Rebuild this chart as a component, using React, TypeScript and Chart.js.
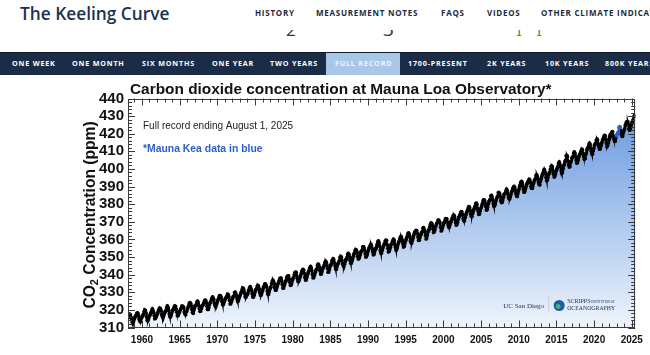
import React, { useEffect, useRef } from 'react';
import { Chart, registerables } from 'chart.js';

Chart.register(...registerables);

const FONT = "'Liberation Sans', Arial, Helvetica, sans-serif";
const SERIF = "'Liberation Serif', 'DejaVu Serif', serif";

const SITE_TITLE = 'The Keeling Curve';
const TOP_LINKS = ['HISTORY', 'MEASUREMENT NOTES', 'FAQS', 'VIDEOS', 'OTHER CLIMATE INDICATORS'];
const TOP_LINK_X = [255, 316, 441, 487, 541];
const RANGE_TABS = ['ONE WEEK', 'ONE MONTH', 'SIX MONTHS', 'ONE YEAR', 'TWO YEARS', 'FULL RECORD', '1700-PRESENT', '2K YEARS', '10K YEARS', '800K YEARS'];
const RANGE_TAB_X = [12, 72, 142, 212, 270, 335, 408, 487, 545, 605];
const ACTIVE_TAB = 'FULL RECORD';

const CHART_TITLE = 'Carbon dioxide concentration at Mauna Loa Observatory*';
const NOTE_RECORD = 'Full record ending August 1, 2025';
const NOTE_MAUNA_KEA = '*Mauna Kea data in blue';
const Y_TITLE_MAIN = 'CO';
const Y_TITLE_SUB = '2';
const Y_TITLE_REST = ' Concentration (ppm)';

const X_TICK_YEARS = [1960, 1965, 1970, 1975, 1980, 1985, 1990, 1995, 2000, 2005, 2010, 2015, 2020, 2025];
const Y_TICK_VALUES = [310, 320, 330, 340, 350, 360, 370, 380, 390, 400, 410, 420, 430, 440];

const FIRST_YEAR = 1958;
const FIRST_MONTH_INDEX = 2; // March 1958

// Monthly mean CO2 (ppm)
const co2_1958_1959 = [
  315.70, 317.45, 317.51, 317.24, 315.86, 314.93, 313.20, 312.43, 313.33, 314.67,
  315.58, 316.48, 316.65, 317.72, 318.29, 318.15, 316.54, 314.80, 313.84, 313.33, 314.81, 315.58,
];
const co2_1960s = [
  316.43, 316.98, 317.58, 319.03, 320.04, 319.59, 318.18, 315.90, 314.17, 313.83, 315.00, 316.19,
  316.90, 317.70, 318.54, 319.48, 320.58, 319.77, 318.57, 316.79, 314.99, 315.31, 316.10, 317.01,
  317.94, 318.55, 319.68, 320.57, 321.02, 320.62, 319.61, 317.40, 316.25, 315.42, 316.69, 317.70,
  318.74, 319.07, 319.86, 321.38, 322.25, 321.48, 319.74, 317.77, 316.21, 315.99, 317.07, 318.35,
  319.57, 320.01, 320.74, 321.84, 322.26, 321.89, 320.44, 318.69, 316.70, 316.87, 317.68, 318.71,
  319.44, 320.44, 320.89, 322.14, 322.17, 321.87, 321.21, 318.87, 317.81, 317.30, 318.87, 319.42,
  320.62, 321.60, 322.39, 323.70, 324.08, 323.75, 322.38, 320.36, 318.64, 318.10, 319.78, 321.03,
  322.33, 322.50, 323.04, 324.42, 325.00, 324.09, 322.54, 320.92, 319.25, 319.39, 320.73, 321.96,
  322.57, 323.15, 323.89, 325.02, 325.57, 325.36, 324.14, 322.11, 320.33, 320.25, 321.32, 322.89,
  324.00, 324.42, 325.63, 326.66, 327.38, 326.71, 325.88, 323.66, 322.38, 321.78, 322.86, 324.12,
];
const co2_1970s = [
  325.06, 325.98, 326.93, 328.13, 328.08, 327.67, 326.34, 324.69, 323.10, 323.06, 324.01, 325.13,
  326.17, 326.68, 327.17, 327.79, 328.93, 328.57, 327.36, 325.43, 323.36, 323.56, 324.80, 326.01,
  326.77, 327.63, 327.75, 329.72, 330.07, 329.09, 328.04, 326.32, 324.84, 325.20, 326.50, 327.55,
  328.55, 329.56, 330.30, 331.50, 332.48, 332.07, 330.87, 329.31, 327.51, 327.18, 328.16, 328.64,
  329.35, 330.71, 331.48, 332.65, 333.19, 332.20, 331.07, 329.15, 327.33, 327.28, 328.31, 329.58,
  330.73, 331.46, 331.90, 333.17, 333.94, 333.45, 331.97, 329.95, 328.50, 328.34, 329.37, 330.58,
  331.59, 332.75, 333.52, 334.64, 334.77, 334.00, 333.06, 330.68, 328.95, 328.75, 330.15, 331.62,
  332.66, 333.13, 334.95, 336.13, 336.93, 336.17, 334.88, 332.56, 331.29, 331.27, 332.41, 333.60,
  334.95, 335.25, 336.66, 337.69, 338.03, 338.01, 336.41, 334.41, 332.37, 332.41, 333.75, 334.90,
  336.14, 336.69, 338.27, 338.96, 339.21, 339.26, 337.54, 335.75, 333.98, 334.19, 335.31, 336.81,
];
const co2_1980s = [
  337.90, 338.34, 340.01, 340.93, 341.48, 341.33, 339.40, 337.70, 336.19, 336.15, 337.27, 338.32,
  339.29, 340.55, 341.61, 342.53, 343.03, 342.54, 340.78, 338.44, 336.95, 337.08, 338.58, 339.88,
  340.96, 341.73, 342.81, 343.97, 344.63, 343.79, 342.32, 340.09, 338.28, 338.29, 339.60, 340.90,
  341.68, 342.90, 343.33, 345.25, 346.03, 345.63, 344.19, 342.27, 340.35, 340.38, 341.59, 343.05,
  344.10, 344.79, 345.52, 346.84, 347.63, 346.98, 345.53, 343.55, 341.40, 341.67, 343.10, 344.70,
  345.21, 346.16, 347.74, 348.34, 349.06, 348.38, 346.72, 345.02, 343.27, 343.13, 344.49, 345.88,
  346.56, 347.28, 348.01, 349.77, 350.38, 349.93, 348.16, 346.08, 345.22, 344.51, 345.93, 347.22,
  348.52, 348.73, 349.73, 351.31, 352.09, 351.53, 350.11, 348.08, 346.52, 346.59, 347.96, 349.16,
  350.39, 351.64, 352.40, 353.69, 354.21, 353.72, 352.69, 350.40, 348.92, 349.13, 350.20, 351.41,
  352.91, 353.27, 353.96, 355.64, 355.86, 355.37, 353.99, 351.81, 350.05, 350.25, 351.49, 352.85,
];
const co2_1990s = [
  353.80, 355.04, 355.73, 356.32, 357.32, 356.34, 354.84, 353.01, 351.31, 351.62, 353.07, 354.33,
  354.84, 355.73, 357.23, 358.66, 359.13, 358.13, 356.19, 353.85, 352.25, 352.35, 353.81, 355.12,
  356.25, 357.11, 357.86, 359.09, 359.59, 359.33, 357.01, 354.94, 352.96, 353.32, 354.32, 355.57,
  357.00, 357.31, 358.47, 359.27, 360.19, 359.52, 357.33, 355.64, 354.03, 354.12, 355.41, 356.91,
  358.24, 358.92, 359.99, 361.23, 361.65, 360.81, 359.38, 357.46, 355.73, 356.07, 357.53, 358.98,
  359.92, 360.86, 361.83, 363.30, 363.69, 363.19, 361.64, 359.12, 358.17, 357.99, 359.45, 360.68,
  362.07, 363.24, 364.17, 364.57, 365.13, 364.92, 363.55, 361.38, 359.54, 359.58, 360.89, 362.24,
  363.09, 364.03, 364.51, 366.35, 366.64, 365.59, 364.31, 362.25, 360.29, 360.82, 362.49, 364.38,
  365.26, 365.98, 367.24, 368.66, 369.42, 368.99, 367.82, 365.95, 364.02, 364.40, 365.52, 367.13,
  368.18, 369.07, 369.68, 370.99, 370.96, 370.30, 369.45, 366.90, 364.81, 365.37, 366.72, 368.10,
];
const co2_2000s = [
  369.29, 369.54, 370.60, 371.82, 371.58, 371.70, 369.86, 368.13, 367.00, 367.03, 368.37, 369.67,
  370.59, 371.51, 372.43, 373.37, 373.85, 373.21, 371.51, 369.61, 368.18, 368.45, 369.76, 371.24,
  372.53, 373.20, 374.12, 375.02, 375.76, 375.52, 374.01, 371.85, 370.75, 370.55, 372.25, 373.79,
  374.88, 375.64, 376.45, 377.73, 378.60, 378.28, 376.70, 374.38, 373.17, 373.14, 374.66, 375.99,
  377.00, 377.87, 378.88, 380.35, 380.62, 379.69, 377.47, 376.01, 374.25, 374.46, 376.16, 377.51,
  378.46, 379.73, 380.77, 382.29, 382.45, 382.21, 380.74, 378.74, 376.70, 377.00, 378.35, 380.11,
  381.38, 382.19, 382.67, 384.61, 385.03, 384.05, 382.46, 380.41, 378.85, 379.13, 380.15, 381.82,
  382.89, 383.90, 384.58, 386.50, 386.56, 386.10, 384.50, 381.99, 380.96, 381.12, 382.45, 383.95,
  385.52, 385.82, 386.03, 387.21, 388.54, 387.76, 386.36, 384.09, 383.18, 382.99, 384.19, 385.56,
  386.94, 387.48, 388.82, 389.55, 390.14, 389.48, 388.03, 386.11, 384.74, 384.43, 386.02, 387.42,
];
const co2_2010s = [
  388.71, 390.20, 391.17, 392.46, 393.00, 392.15, 390.20, 388.35, 386.85, 387.24, 388.67, 389.79,
  391.33, 391.86, 392.60, 393.25, 394.19, 393.74, 392.51, 390.13, 389.08, 389.00, 390.28, 391.86,
  393.12, 393.86, 394.40, 396.18, 396.74, 395.71, 394.36, 392.39, 391.11, 391.05, 392.98, 394.34,
  395.55, 396.80, 397.43, 398.41, 399.78, 398.60, 397.32, 395.20, 393.45, 393.70, 395.16, 396.84,
  397.85, 398.01, 399.77, 401.38, 401.78, 401.25, 399.10, 397.03, 395.38, 396.03, 397.28, 398.91,
  399.98, 400.28, 401.54, 403.28, 403.96, 402.80, 401.31, 398.93, 397.63, 398.29, 400.16, 401.85,
  402.56, 404.12, 404.87, 407.45, 407.72, 406.83, 404.41, 402.27, 401.05, 401.59, 403.55, 404.45,
  406.17, 406.46, 407.22, 409.04, 409.69, 408.88, 407.12, 405.13, 403.37, 403.63, 405.12, 406.81,
  407.96, 408.32, 409.41, 410.24, 411.24, 410.79, 408.71, 406.99, 405.51, 406.00, 408.02, 409.07,
  410.83, 411.75, 411.97, 413.32, 414.66, 413.92, 411.77, 409.95, 408.54, 408.53, 410.27, 411.76,
];
const co2_2020s = [
  413.40, 414.11, 414.51, 416.21, 417.07, 416.38, 414.38, 412.55, 411.29, 411.28, 412.89, 413.89,
  415.15, 416.47, 417.16, 418.24, 419.05, 418.97, 416.70, 414.70, 412.66, 413.52, 414.94, 416.79,
  418.19, 419.28, 418.81, 420.23, 420.99, 420.99, 418.90, 417.19, 415.95, 415.78, 417.51, 418.95,
  419.47, 420.31, 420.99, 423.36, 424.00, 423.68, 421.83, 419.68, 418.51, 418.82, 420.46, 421.86,
  422.80, 424.55, 425.38, 426.57, 426.90, 426.91, 425.55, 422.99, 422.03, 422.38, 423.85, 425.40,
  426.65, 427.09, 428.15, 429.64, 430.51, 429.61, 427.87,
];

// Months measured on Mauna Kea (drawn in blue)
const MAUNA_KEA_MONTHS = ['2022-12', '2023-01', '2023-02', '2023-03', '2023-04', '2023-05', '2023-06'];

export default function App() {
  const canvasRef = useRef<HTMLCanvasElement | null>(null);

  useEffect(() => {
    const canvas = canvasRef.current;
    if (!canvas) return;

    const monthly = [co2_1958_1959, co2_1960s, co2_1970s, co2_1980s, co2_1990s, co2_2000s, co2_2010s, co2_2020s].flat();
    const points = monthly.map((v, i) => {
      const m = FIRST_MONTH_INDEX + i;
      const year = FIRST_YEAR + Math.floor(m / 12);
      const mon = (m % 12) + 1;
      return { x: FIRST_YEAR + (m + 0.5) / 12, y: v, key: `${year}-${String(mon).padStart(2, '0')}` };
    });
    const isKea = (k: string) => MAUNA_KEA_MONTHS.includes(k);
    const loaData = points.map((p) => ({ x: p.x, y: isKea(p.key) ? null : p.y }));
    const keaData = points.filter((p) => isKea(p.key)).map((p) => ({ x: p.x, y: p.y }));
    const fillData = points.map((p) => ({ x: p.x, y: p.y }));

    const decor = {
      id: 'decor',
      afterDraw(chart: any) {
        const { ctx, chartArea: a, scales } = chart;
        const xs = scales.x;
        const ys = scales.y;
        ctx.save();
        // ticks on all four sides
        ctx.strokeStyle = '#3a3a3a';
        ctx.lineWidth = 1;
        ctx.beginPath();
        for (let yr = Math.ceil(xs.min); yr <= Math.floor(xs.max); yr++) {
          const px = Math.round(xs.getPixelForValue(yr)) + 0.5;
          const len = yr % 5 === 0 ? 7 : 4;
          ctx.moveTo(px, a.bottom);
          ctx.lineTo(px, a.bottom - len);
          ctx.moveTo(px, a.top);
          ctx.lineTo(px, a.top + len);
        }
        for (let v = ys.min; v <= ys.max; v += 2) {
          const py = Math.round(ys.getPixelForValue(v)) + 0.5;
          const len = v % 10 === 0 ? 7 : 4;
          ctx.moveTo(a.left, py);
          ctx.lineTo(a.left + len, py);
          ctx.moveTo(a.right, py);
          ctx.lineTo(a.right - len, py);
        }
        ctx.stroke();
        ctx.strokeRect(Math.round(a.left) + 0.5, Math.round(a.top) + 0.5, Math.round(a.width) - 1, Math.round(a.height) - 1);

        // chart title
        ctx.fillStyle = '#111';
        ctx.textAlign = 'left';
        ctx.textBaseline = 'alphabetic';
        ctx.font = `bold 15.4px ${FONT}`;
        ctx.fillText(CHART_TITLE, a.left + 2, a.top - 5);

        // notes
        ctx.textBaseline = 'middle';
        ctx.font = `10px ${FONT}`;
        ctx.fillStyle = '#222';
        ctx.fillText(NOTE_RECORD, a.left + 15, a.top + 28);
        ctx.font = `bold 10.4px ${FONT}`;
        ctx.fillStyle = '#2d5fc9';
        ctx.fillText(NOTE_MAUNA_KEA, a.left + 15, a.top + 51);

        // y axis title with subscript
        ctx.save();
        ctx.translate(94.5, (a.top + a.bottom) / 2 + 2);
        ctx.rotate(-Math.PI / 2);
        ctx.fillStyle = '#111';
        ctx.textBaseline = 'alphabetic';
        const big = `bold 15.6px ${FONT}`;
        const small = `bold 11px ${FONT}`;
        ctx.font = big;
        const w1 = ctx.measureText(Y_TITLE_MAIN).width;
        const w3 = ctx.measureText(Y_TITLE_REST).width;
        ctx.font = small;
        const w2 = ctx.measureText(Y_TITLE_SUB).width;
        let sx = -(w1 + w2 + w3) / 2;
        ctx.font = big;
        ctx.fillText(Y_TITLE_MAIN, sx, 0);
        sx += w1;
        ctx.font = small;
        ctx.fillText(Y_TITLE_SUB, sx, 3.5);
        sx += w2;
        ctx.font = big;
        ctx.fillText(Y_TITLE_REST, sx, 0);
        ctx.restore();

        // logos
        ctx.textBaseline = 'alphabetic';
        ctx.fillStyle = '#1b2d4f';
        ctx.font = `7px ${SERIF}`;
        ctx.fillText('UC San Diego', a.right - 132, a.bottom - 20);
        ctx.strokeStyle = '#c9d3df';
        ctx.beginPath();
        ctx.moveTo(a.right - 86.5, a.bottom - 32);
        ctx.lineTo(a.right - 86.5, a.bottom - 15);
        ctx.stroke();
        const cx = a.right - 76;
        const cy = a.bottom - 22;
        ctx.fillStyle = '#1f5aa6';
        ctx.beginPath();
        ctx.arc(cx, cy, 5.5, 0, Math.PI * 2);
        ctx.fill();
        ctx.fillStyle = '#47b36b';
        ctx.beginPath();
        ctx.arc(cx - 1, cy + 1, 2.4, 0, Math.PI * 2);
        ctx.fill();
        ctx.fillStyle = '#1b2d4f';
        ctx.font = `6px ${SERIF}`;
        ctx.fillText('SCRIPPS', a.right - 68, a.bottom - 25);
        ctx.font = `3px ${SERIF}`;
        ctx.fillText('INSTITUTION OF', a.right - 44, a.bottom - 25);
        ctx.font = `5.8px ${SERIF}`;
        ctx.fillText('OCEANOGRAPHY', a.right - 68, a.bottom - 18);
        ctx.restore();
      },
    };

    const gradientFill = (c: any) => {
      const chart = c.chart;
      const area = chart.chartArea;
      if (!area) return 'rgba(150,185,232,0.6)';
      const g = chart.ctx.createLinearGradient(0, area.top, 0, area.bottom);
      g.addColorStop(0, 'rgb(98,148,222)');
      g.addColorStop(1, 'rgb(238,244,252)');
      return g;
    };

    const chart = new Chart(canvas, {
      type: 'line',
      data: {
        datasets: [
          {
            label: 'Mauna Loa',
            data: loaData as any,
            borderColor: '#000',
            backgroundColor: '#000',
            borderWidth: 2,
            pointRadius: 1.9,
            pointBorderWidth: 0,
            pointBackgroundColor: '#000',
            fill: false,
            spanGaps: false,
            order: 1,
          },
          {
            label: 'Mauna Kea',
            data: keaData as any,
            borderColor: '#2d5fc9',
            backgroundColor: '#2d5fc9',
            borderWidth: 2,
            pointRadius: 1.9,
            pointBorderWidth: 0,
            pointBackgroundColor: '#2d5fc9',
            fill: false,
            order: 0,
          },
          {
            label: 'area',
            data: fillData as any,
            borderColor: 'rgba(0,0,0,0)',
            borderWidth: 0,
            pointRadius: 0,
            fill: 'start',
            backgroundColor: gradientFill,
            order: 5,
          },
        ],
      },
      options: {
        responsive: false,
        animation: false,
        events: [],
        layout: { padding: { top: 22.5, right: 12, left: 0, bottom: 0 } },
        plugins: {
          legend: { display: false },
          tooltip: { enabled: false },
          title: { display: false },
        },
        scales: {
          x: {
            type: 'linear',
            min: 1958.15,
            max: 2025.45,
            grid: { display: false, drawTicks: false },
            border: { display: false },
            afterBuildTicks: (s: any) => {
              s.ticks = X_TICK_YEARS.map((v) => ({ value: v }));
            },
            afterFit: (s: any) => {
              s.height = 27.5;
            },
            ticks: {
              autoSkip: false,
              maxRotation: 0,
              padding: 7,
              color: '#111',
              font: { family: FONT, size: 10, weight: 'bold' },
              callback: (v: any) => String(v),
            },
          },
          y: {
            type: 'linear',
            min: 310,
            max: 440,
            grid: { display: false, drawTicks: false },
            border: { display: false },
            afterBuildTicks: (s: any) => {
              s.ticks = Y_TICK_VALUES.map((v) => ({ value: v }));
            },
            afterFit: (s: any) => {
              s.width = 128;
            },
            ticks: {
              autoSkip: false,
              padding: 4,
              color: '#111',
              font: { family: FONT, size: 15, weight: 'bold' },
              callback: (v: any) => String(v),
            },
          },
        },
      } as any,
      plugins: [decor],
    });

    return () => chart.destroy();
  }, []);

  const navFont = "'Open Sans', 'Noto Sans', sans-serif";
  const frag = (left: number, text: string, color: string, family: string, size: number, top: number) => (
    <span style={{ position: 'absolute', left, top, fontFamily: family, fontWeight: 400, fontSize: size, lineHeight: 1, color, whiteSpace: 'nowrap' }}>{text}</span>
  );

  return (
    <div style={{ position: 'absolute', left: 0, top: 0, width: 650, height: 355, overflow: 'hidden', background: '#fff' }}>
      <div style={{ position: 'absolute', left: 20, top: 5, fontFamily: navFont, fontWeight: 600, fontSize: 17.3, lineHeight: 1, color: '#1c3152', whiteSpace: 'nowrap' }}>
        {SITE_TITLE}
      </div>
      {TOP_LINKS.map((t, i) => (
        <div key={t} style={{ position: 'absolute', left: TOP_LINK_X[i], top: 8.5, fontFamily: navFont, fontWeight: 700, fontSize: 8, letterSpacing: 0.75, lineHeight: 1, color: '#1c2b40', whiteSpace: 'nowrap' }}>
          {t}
        </div>
      ))}
      <div style={{ position: 'absolute', left: 0, top: 30, width: 650, height: 6, overflow: 'hidden', clipPath: 'inset(0px)' }}>
        {frag(286, '2', '#333', navFont, 17, -9.5)}
        {frag(383, '3', '#333', navFont, 19, -10.5)}
        {frag(515, '1', '#2e9b3e', "'DejaVu Serif', serif", 13, -5)}
        {frag(535, '1', '#2e9b3e', "'DejaVu Serif', serif", 13, -5)}
      </div>
      <div style={{ position: 'absolute', left: 0, top: 52, width: 650, height: 22, background: '#1b2c46', borderTop: '1px solid #111a2a' }}>
        <div style={{ position: 'absolute', left: 326, top: 0, width: 74, height: 22, background: '#a9c7e6' }} />
        {RANGE_TABS.map((t, i) => (
          <div key={t} style={{ position: 'absolute', left: RANGE_TAB_X[i], top: 6.8, fontFamily: navFont, fontWeight: 700, fontSize: 7.2, letterSpacing: 0.8, lineHeight: 1, color: t === ACTIVE_TAB ? '#eef4fb' : '#ffffff', whiteSpace: 'nowrap' }}>
            {t}
          </div>
        ))}
      </div>
      <canvas ref={canvasRef} width={650} height={279} style={{ position: 'absolute', left: 0, top: 76, width: 650, height: 279 }} />
    </div>
  );
}
